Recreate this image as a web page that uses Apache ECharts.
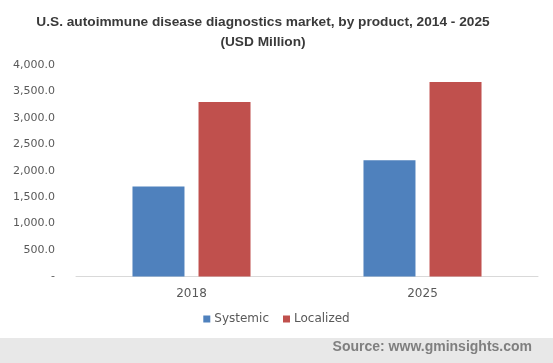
<!DOCTYPE html>
<html>
<head>
<meta charset="utf-8">
<script src="https://cdn.jsdelivr.net/npm/echarts@6/dist/echarts.min.js"></script>
<style>html,body{margin:0;padding:0;background:#fff}#c{width:553px;height:363px}</style>
</head>
<body>
<div id="c"></div>
<script>
var categories = ['2018', '2025'];
var systemic = [1700, 2200];
var localized = [3300, 3680];
var yTicks = [0, 500, 1000, 1500, 2000, 2500, 3000, 3500, 4000];

var chart = echarts.init(document.getElementById('c'), null, {renderer: 'canvas'});
chart.setOption({
  animation: false,
  backgroundColor: '#ffffff',
  title: {
    text: 'U.S. autoimmune disease diagnostics market, by product, 2014 - 2025\n(USD Million)',
    left: 258,
    textAlign: 'center',
    top: 7,
    textStyle: {fontFamily: 'Liberation Sans', fontWeight: 'bold', fontSize: 13.7, color: '#3a3a3a', lineHeight: 20}
  },
  legend: {
    data: ['Systemic', 'Localized'],
    bottom: 33,
    left: 'center',
    icon: 'rect',
    itemWidth: 7,
    itemHeight: 7,
    itemGap: 14,
    textStyle: {fontFamily: 'DejaVu Sans', fontSize: 12, color: '#595959', padding: [0, 0, 0, -1]}
  },
  grid: {left: 76, right: 15, top: 65, bottom: 86.5},
  xAxis: {
    type: 'category',
    data: categories,
    axisLine: {lineStyle: {color: '#d9d9d9', width: 1}},
    axisTick: {show: false},
    axisLabel: {fontFamily: 'DejaVu Sans', fontSize: 12, color: '#595959', margin: 11}
  },
  yAxis: {
    type: 'value',
    min: yTicks[0],
    max: yTicks[yTicks.length - 1],
    interval: 500,
    splitLine: {show: false},
    axisLine: {show: false},
    axisTick: {show: false},
    axisLabel: {
      fontFamily: 'DejaVu Sans', fontSize: 11, color: '#595959', margin: 21,
      formatter: function (v) {
        if (v === 0) return '-';
        return v.toLocaleString('en-US', {minimumFractionDigits: 1, maximumFractionDigits: 1});
      }
    }
  },
  series: [
    {name: 'Systemic', type: 'bar', data: systemic, barWidth: 52, barGap: '27%', itemStyle: {color: '#4f81bd'}},
    {name: 'Localized', type: 'bar', data: localized, barWidth: 52, barGap: '27%', itemStyle: {color: '#c0504d'}}
  ],
  graphic: [
    {type: 'rect', left: 0, top: 338, shape: {width: 553, height: 25}, style: {fill: '#e8e8e8'}, silent: true},
    {type: 'text', right: 21, top: 340, style: {text: 'Source: www.gminsights.com', fontFamily: 'Liberation Sans', fontWeight: 'bold', fontSize: 14, fill: '#7f7f7f'}}
  ]
});
</script>
</body>
</html>
